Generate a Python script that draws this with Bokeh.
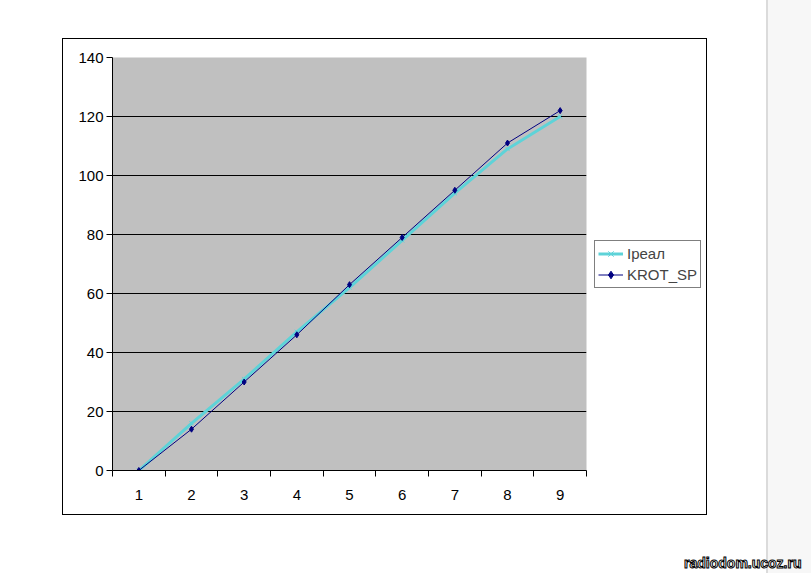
from bokeh.plotting import figure
from bokeh.models import (FixedTicker, Legend, LegendItem, Title, InlineStyleSheet,
                          ColumnDataSource)
from bokeh.embed import file_html
from bokeh.resources import INLINE

x = [1, 2, 3, 4, 5, 6, 7, 8, 9]
i_real = [0, 16, 31, 47, 62, 78, 94, 109, 120]
krot_sp = [0, 14, 30, 46, 63, 79, 95, 111, 122]
y_ticks = [0, 20, 40, 60, 80, 100, 120, 140]
x_bounds = [0.5, 1.5, 2.5, 3.5, 4.5, 5.5, 6.5, 7.5, 8.5, 9.5]
series_names = ["Iреал", "KROT_SP"]
watermark = "radiodom.ucoz.ru"

FONT = "Liberation Sans"

css = InlineStyleSheet(css="""
:host { position: relative; }
:host::after { content: ""; position: absolute; left: 62px; top: 38px;
  width: 643px; height: 475px; border: 1px solid black; pointer-events: none; z-index: 5; }
:host::before { content: ""; position: absolute; left: 766px; top: 0px;
  width: 43px; height: 573px; background: rgba(0,0,0,0.03);
  border-left: 2px solid rgba(0,0,0,0.11); pointer-events: none; z-index: 4; }
""")

p = figure(width=811, height=573, frame_width=474, frame_height=413,
           min_border_left=112, min_border_right=225, min_border_top=57,
           min_border_bottom=103, x_range=(0.5, 9.5), y_range=(0, 140),
           output_backend="svg", toolbar_location=None)
p.stylesheets = [css]
p.background_fill_color = "#C0C0C0"
p.border_fill_color = "white"
p.outline_line_color = None

# axes
p.xaxis.ticker = FixedTicker(ticks=x, minor_ticks=x_bounds)
p.xaxis.major_tick_out = 0
p.xaxis.major_tick_in = 0
p.xaxis.minor_tick_out = 6
p.xaxis.minor_tick_in = 0
p.xaxis.minor_tick_line_color = "black"
p.xaxis.major_label_standoff = 13
p.yaxis.ticker = FixedTicker(ticks=y_ticks)
p.yaxis.major_tick_out = 6
p.yaxis.major_tick_in = 0
p.yaxis.minor_tick_out = 0
p.yaxis.minor_tick_in = 0
p.yaxis.major_label_standoff = 3
for ax in (p.xaxis, p.yaxis):
    ax.major_label_text_font = FONT
    ax.major_label_text_font_size = "15px"
    ax.major_label_text_color = "black"
    ax.axis_line_color = "black"
    ax.major_tick_line_color = "black"

p.xgrid.visible = False
p.ygrid.ticker = FixedTicker(ticks=y_ticks)
p.ygrid.grid_line_color = "black"
p.ygrid.grid_line_width = 1

src = ColumnDataSource(dict(x=x, a=i_real, b=krot_sp))
l1 = p.line("x", "a", source=src, line_color="#5ED3D8", line_width=3)
m1 = p.scatter("x", "a", source=src, marker="x", size=6, line_color="#5ED3D8",
               line_width=1)
l2 = p.line("x", "b", source=src, line_color="#000080", line_width=1)
m2 = p.scatter("x", "b", source=src, marker="diamond", size=6,
               fill_color="#000080", line_color="#000080")

legend = Legend(items=[LegendItem(label=series_names[0], renderers=[l1, m1]),
                       LegendItem(label=series_names[1], renderers=[l2, m2])],
                location="center_left")
legend.border_line_color = "black"
legend.border_line_width = 1
legend.background_fill_color = "white"
legend.background_fill_alpha = 1
legend.label_text_font = FONT
legend.label_text_font_size = "15px"
legend.glyph_width = 25
legend.glyph_height = 19
legend.label_height = 19
legend.spacing = 2
legend.padding = 3
legend.margin = 8
legend.label_standoff = 4
p.add_layout(legend, "right")

wm = Title(text=watermark, align="right", offset=-215, standoff=100,
           text_font=FONT, text_font_size="14px", text_font_style="bold",
           text_color="white", text_outline_color="black")
p.add_layout(wm, "below")

open("out.html", "w").write(file_html(p, INLINE))
